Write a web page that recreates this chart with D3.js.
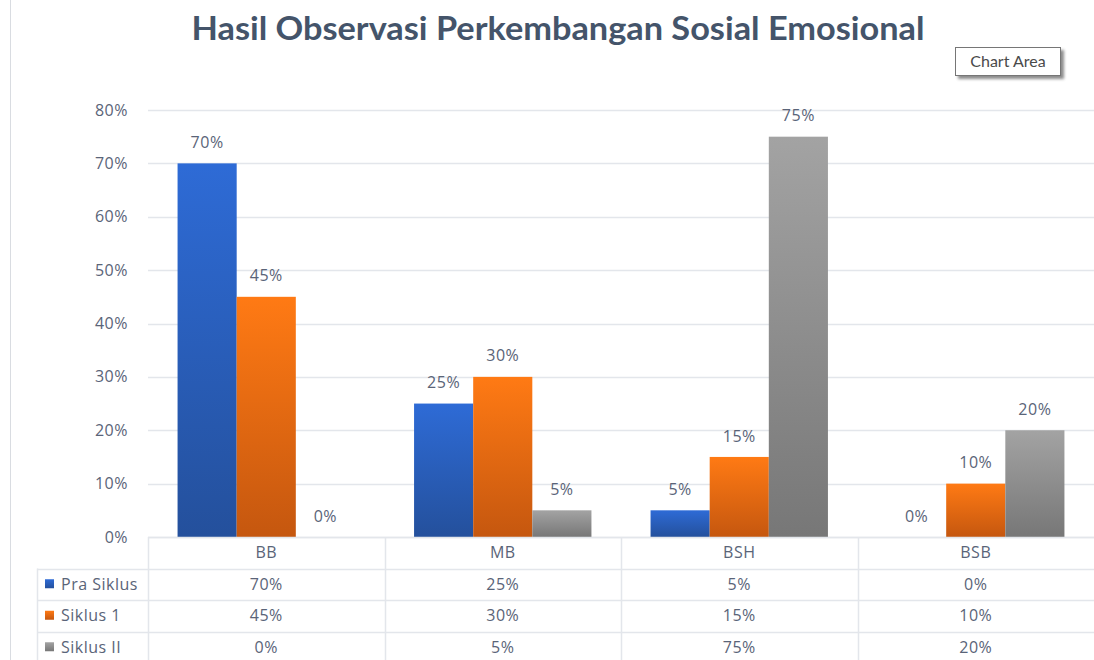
<!DOCTYPE html>
<html>
<head>
<meta charset="utf-8">
<script src="https://cdn.jsdelivr.net/npm/d3@7"></script>
<style>
  body { margin: 0; background: #fff; }
  svg { display: block; }
</style>
</head>
<body>
<div class="canvas"></div>
<script>
// Data
const categories = ['BB', 'MB', 'BSH', 'BSB']
const seriesNames = ['Pra Siklus', 'Siklus 1', 'Siklus II']
const praSiklus = [0.70, 0.25, 0.05, 0.00]
const siklus1 = [0.45, 0.30, 0.15, 0.10]
const siklus2 = [0.00, 0.05, 0.75, 0.20]
const yTicks = [0, 0.1, 0.2, 0.3, 0.4, 0.5, 0.6, 0.7, 0.8]

const seriesValues = [praSiklus, siklus1, siklus2]
const colors = [
  {top: '#2E6BD6', bottom: '#24509C'},
  {top: '#FF7A14', bottom: '#C5570F'},
  {top: '#A3A3A3', bottom: '#777777'}
]
const textColor = '#5A6478'
const gridColor = '#E3E6EB'
const fontFam = '"Open Sans", sans-serif'
const titleFont = 'Lato, sans-serif'
const labelSize = 16
const labelSpacing = 0.5

const width = 1094
const height = 660
const margin = {top: 110, left: 148, right: 0, bottom: 123}

const svg = d3.select('.canvas')
  .append('svg')
    .attr('width', width)
    .attr('height', height)

const defs = svg.append('defs')
colors.forEach((c, i) => {
  const g = defs.append('linearGradient')
    .attr('id', 'grad' + i)
    .attr('x1', 0).attr('y1', 0).attr('x2', 0).attr('y2', 1)
  g.append('stop').attr('offset', '0%').attr('stop-color', c.top)
  g.append('stop').attr('offset', '100%').attr('stop-color', c.bottom)
})
const shadow = defs.append('filter').attr('id', 'shadow')
  .attr('x', '-20%').attr('y', '-20%').attr('width', '150%').attr('height', '160%')
shadow.append('feDropShadow')
  .attr('dx', 3).attr('dy', 3).attr('stdDeviation', 1.5)
  .attr('flood-color', '#000').attr('flood-opacity', 0.45)

// Chart area left border
svg.append('line')
  .attr('x1', 10.5).attr('x2', 10.5)
  .attr('y1', 0).attr('y2', height)
  .attr('stroke', '#D9DCE1')

// Title
svg.append('text')
  .attr('x', 558)
  .attr('y', 40)
  .attr('text-anchor', 'middle')
  .attr('font-family', titleFont)
  .attr('font-weight', 'bold')
  .attr('font-size', 32)
  .attr('textLength', 733)
  .attr('lengthAdjust', 'spacingAndGlyphs')
  .attr('fill', '#44546A')
  .text('Hasil Observasi Perkembangan Sosial Emosional')

// Scales
const y = d3.scaleLinear()
  .domain([0, 0.8])
  .range([height - margin.bottom, margin.top])

const x = d3.scaleBand()
  .domain(categories)
  .range([margin.left, width - margin.right])

const xs = d3.scaleBand()
  .domain(seriesNames)
  .range([0, x.bandwidth()])
  .paddingOuter(0.5)
  .paddingInner(0)

const pct = d3.format('.0%')

// helper for the shared label style
const styleLabel = (sel) => sel
  .attr('font-family', fontFam)
  .attr('font-size', labelSize)
  .attr('letter-spacing', labelSpacing)
  .attr('fill', textColor)

// Grid lines
svg.append('g')
  .selectAll('line')
  .data(yTicks)
  .enter()
  .append('line')
    .attr('x1', margin.left)
    .attr('x2', width)
    .attr('y1', (d) => Math.round(y(d)) + 0.5)
    .attr('y2', (d) => Math.round(y(d)) + 0.5)
    .attr('stroke', gridColor)
    .attr('stroke-width', 1.5)

// Y axis labels
svg.append('g')
  .selectAll('text')
  .data(yTicks)
  .enter()
  .append('text')
    .attr('x', 128)
    .attr('y', (d) => y(d))
    .attr('dy', '0.35em')
    .attr('text-anchor', 'end')
    .call(styleLabel)
    .text(pct)

// Bars
const flat = []
categories.forEach((cat, ci) => {
  seriesNames.forEach((s, si) => {
    flat.push({cat, s, si, value: seriesValues[si][ci]})
  })
})

const bars = svg.append('g')
bars.selectAll('rect')
  .data(flat.filter((d) => d.value > 0))
  .enter()
  .append('rect')
    .attr('x', (d) => x(d.cat) + xs(d.s))
    .attr('y', (d) => y(d.value))
    .attr('width', xs.bandwidth())
    .attr('height', (d) => y(0) - y(d.value))
    .attr('fill', (d) => 'url(#grad' + d.si + ')')

bars.selectAll('text')
  .data(flat)
  .enter()
  .append('text')
    .attr('x', (d) => x(d.cat) + xs(d.s) + xs.bandwidth() / 2)
    .attr('y', (d) => y(d.value) - 21)
    .attr('dy', '0.35em')
    .attr('text-anchor', 'middle')
    .call(styleLabel)
    .text((d) => pct(d.value))

// Data table
const rowH = 31.5
const tableTop = y(0)
const legendLeft = 37
const table = svg.append('g')

// horizontal lines
const hLines = [0, 1, 2, 3]
table.selectAll('line.h')
  .data(hLines)
  .enter()
  .append('line')
    .attr('x1', (d) => d === 0 ? margin.left : legendLeft)
    .attr('x2', width)
    .attr('y1', (d) => Math.round(tableTop + d * rowH) + 0.5)
    .attr('y2', (d) => Math.round(tableTop + d * rowH) + 0.5)
    .attr('stroke', gridColor)
    .attr('stroke-width', 1.5)

// vertical lines
table.selectAll('line.v')
  .data(categories)
  .enter()
  .append('line')
    .attr('x1', (d) => Math.round(x(d)) + 0.5)
    .attr('x2', (d) => Math.round(x(d)) + 0.5)
    .attr('y1', tableTop)
    .attr('y2', height)
    .attr('stroke', gridColor)
    .attr('stroke-width', 1.5)

table.append('line')
  .attr('x1', legendLeft + 0.5).attr('x2', legendLeft + 0.5)
  .attr('y1', tableTop + rowH).attr('y2', height)
  .attr('stroke', gridColor)
  .attr('stroke-width', 1.5)

// category labels
table.selectAll('text.cat')
  .data(categories)
  .enter()
  .append('text')
    .attr('x', (d) => x(d) + x.bandwidth() / 2)
    .attr('y', tableTop + rowH / 2)
    .attr('dy', '0.35em')
    .attr('text-anchor', 'middle')
    .call(styleLabel)
    .text((d) => d)

// legend cells
seriesNames.forEach((s, si) => {
  const cy = tableTop + rowH * (si + 1) + rowH / 2
  table.append('rect')
    .attr('x', 45)
    .attr('y', cy - 5)
    .attr('width', 9)
    .attr('height', 9)
    .attr('fill', 'url(#grad' + si + ')')
  table.append('text')
    .attr('x', 61)
    .attr('y', cy)
    .attr('dy', '0.35em')
    .call(styleLabel)
    .text(s)
  table.selectAll(null)
    .data(categories)
    .enter()
    .append('text')
      .attr('x', (d) => x(d) + x.bandwidth() / 2)
      .attr('y', cy)
      .attr('dy', '0.35em')
      .attr('text-anchor', 'middle')
      .call(styleLabel)
      .text((d, ci) => pct(seriesValues[si][ci]))
})

// "Chart Area" tooltip
const tip = svg.append('g').attr('transform', 'translate(955,47)')
tip.append('rect')
  .attr('x', 0.5).attr('y', 0.5)
  .attr('width', 105).attr('height', 28)
  .attr('fill', '#fff')
  .attr('stroke', '#767676')
  .attr('filter', 'url(#shadow)')
tip.append('text')
  .attr('x', 53)
  .attr('y', 14.5)
  .attr('dy', '0.35em')
  .attr('text-anchor', 'middle')
  .attr('font-family', titleFont)
  .attr('font-size', 16)
  .attr('fill', '#4a4a4a')
  .text('Chart Area')
</script>
</body>
</html>
